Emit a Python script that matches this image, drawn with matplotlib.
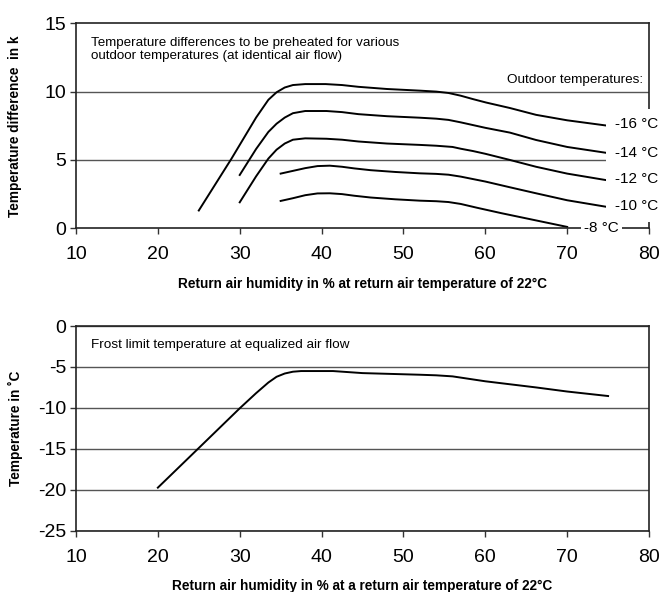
import matplotlib.pyplot as plt

plt.rcParams['font.family'] = ['Liberation Sans', 'DejaVu Sans']
plt.rcParams['axes.unicode_minus'] = False

# curves: humidity (%) -> temperature difference (K)
x_m16 = [25, 29, 32, 33.5, 34.5, 35.5, 36.5, 38, 40.5, 42.5, 44.5, 48, 52, 54, 55.5, 57, 58.5, 60.1, 63, 66.2, 70, 75]
y_m16 = [1.3, 5.1, 8.1, 9.4, 9.95, 10.3, 10.48, 10.55, 10.55, 10.48, 10.35, 10.19, 10.07, 10.0, 9.9, 9.7, 9.45, 9.2, 8.8, 8.3, 7.9, 7.5]

x_m14 = [30, 32, 33.5, 34.5, 35.5, 36.5, 38, 40.6, 42.5, 44.5, 48, 52, 54, 55.5, 57, 58.5, 60, 63, 66.2, 70, 75]
y_m14 = [3.9, 5.8, 7.05, 7.65, 8.1, 8.42, 8.58, 8.58, 8.5, 8.35, 8.2, 8.09, 8.02, 7.93, 7.75, 7.55, 7.35, 7.0, 6.46, 5.95, 5.5]

x_m12 = [30, 32, 33.5, 34.5, 35.5, 36.5, 38, 40.6, 42.5, 44.5, 48, 52, 54, 56, 57, 58.5, 60, 63, 66.2, 70, 75]
y_m12 = [1.9, 3.8, 5.1, 5.75, 6.2, 6.48, 6.58, 6.55, 6.48, 6.35, 6.2, 6.1, 6.04, 5.95, 5.82, 5.65, 5.45, 5.0, 4.5, 4.0, 3.5]

x_m10 = [35, 36.5, 38, 39.5, 41, 42.5, 44, 46, 49, 52, 54, 55.5, 57, 58.5, 60, 63, 66.2, 70, 75]
y_m10 = [4.0, 4.2, 4.4, 4.55, 4.58, 4.5, 4.38, 4.25, 4.12, 4.02, 3.98, 3.92, 3.78, 3.6, 3.42, 3.0, 2.56, 2.05, 1.55]

x_m8 = [35, 36.5, 38, 39.5, 41, 42.5, 44, 46, 49, 52, 54, 55.5, 57, 59, 62, 66, 70]
y_m8 = [2.0, 2.2, 2.42, 2.55, 2.56, 2.5, 2.38, 2.25, 2.12, 2.02, 1.98, 1.92, 1.78, 1.5, 1.1, 0.6, 0.1]

curve_labels = ['-16 °C', '-14 °C', '-12 °C', '-10 °C', '-8 °C']

# frost limit curve
x_frost = [20, 25, 30, 32, 33.5, 34.5, 35.5, 36.5, 37.5, 41.4, 45, 52, 54, 56, 58, 60, 66.2, 70, 75]
y_frost = [-19.74, -14.9, -10.05, -8.2, -6.9, -6.2, -5.8, -5.58, -5.5, -5.5, -5.75, -5.95, -6.02, -6.15, -6.45, -6.75, -7.5, -8.0, -8.55]

fig = plt.figure(figsize=(6.62, 5.92), dpi=100)
ax1 = fig.add_axes([0.1148, 0.6144, 0.8656, 0.3463])
ax2 = fig.add_axes([0.1148, 0.1035, 0.8656, 0.3458])

for ax in (ax1, ax2):
    ax.set_xlim(10, 80)
    ax.set_xticks(range(10, 81, 10))
    ax.tick_params(axis='both', labelsize=14, length=4, width=1, color='#333333')
    ax.tick_params(axis='x', pad=9)
    ax.tick_params(axis='y', pad=3)
    for s in ax.spines.values():
        s.set_linewidth(1.2)
        s.set_color('#222222')
    ax.yaxis.grid(True, color='#555555', linewidth=1)
    ax.set_axisbelow(True)

# top chart
ax1.set_ylim(0, 15)
ax1.set_yticks([0, 5, 10, 15])
ax1.yaxis.grid(False)
ax1.axhline(10, color='#555555', lw=1, zorder=1)
ax1.axhline(5, color='#555555', lw=1, zorder=1)
curves = [(x_m16, y_m16), (x_m14, y_m14), (x_m12, y_m12), (x_m10, y_m10), (x_m8, y_m8)]
for xs, ys in curves:
    ax1.plot(xs, ys, color='black', lw=1.4, zorder=2, solid_joinstyle='round')

lab_y = [7.6, 5.5, 3.6, 1.6]
for lab, yy in zip(curve_labels[:4], lab_y):
    ax1.text(75.8, yy, lab, fontsize=11, ha='left', va='center', clip_on=False, zorder=5,
             bbox=dict(facecolor='white', edgecolor='none', pad=6))
ax1.text(74.2, 0, curve_labels[4], fontsize=11, ha='center', va='center', clip_on=False,
         zorder=5, bbox=dict(facecolor='white', edgecolor='none', pad=2.5))
ax1.text(79.3, 10.85, 'Outdoor temperatures:', fontsize=9.7, ha='right', va='center')
ax1.text(11.8, 13.08, 'Temperature differences to be preheated for various\noutdoor temperatures (at identical air flow)',
         fontsize=9.6, ha='left', va='center', linespacing=1.2)
ax1.set_ylabel('Temperature difference  in k', fontsize=9.8, fontweight='bold', va='center')
ax1.yaxis.set_label_coords(-0.1065, 0.5)
ax1.set_xlabel('Return air humidity in % at return air temperature of 22°C', fontsize=9.8,
               fontweight='bold', va='center')
ax1.xaxis.set_label_coords(0.5, -0.272)

# bottom chart
ax2.set_ylim(-25, 0)
ax2.set_yticks([-25, -20, -15, -10, -5, 0])
ax2.plot(x_frost, y_frost, color='black', lw=1.4, zorder=2, solid_joinstyle='round')
ax2.text(11.8, -2.3, 'Frost limit temperature at equalized air flow', fontsize=9.7,
         ha='left', va='center')
ax2.set_ylabel('Temperature in ˚C', fontsize=9.8, fontweight='bold', va='center')
ax2.yaxis.set_label_coords(-0.1065, 0.5)
ax2.set_xlabel('Return air humidity in % at a return air temperature of 22°C', fontsize=9.8,
               fontweight='bold', va='center')
ax2.xaxis.set_label_coords(0.5, -0.270)

fig.savefig('out.png', dpi=100)
